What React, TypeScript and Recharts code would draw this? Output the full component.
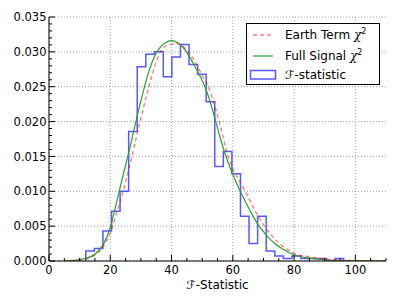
import React from 'react';
import { ComposedChart, Line, XAxis, YAxis, CartesianGrid, Legend } from 'recharts';

// Histogram bin edges (F-statistic) and normalised densities
const binEdges = [12.0, 14.8, 17.6, 20.4, 23.2, 26.0, 28.8, 31.6, 34.4, 37.3, 40.1, 42.9, 45.7, 48.5, 51.3, 54.1, 56.9, 59.7, 62.5, 65.3, 68.1, 70.9, 73.7, 76.5, 79.3, 82.2, 85.0, 87.8, 90.6, 93.4, 96.2];
const histDensity = [0.00143, 0.00179, 0.00429, 0.00714, 0.01000, 0.01857, 0.02785, 0.02964, 0.03000, 0.02642, 0.02928, 0.03106, 0.02820, 0.02678, 0.02285, 0.01357, 0.01570, 0.01250, 0.00643, 0.00250, 0.00643, 0.00143, 0.00071, 0.00036, 0.00071, 0.00036, 0.00036, 0.00036, 0.00000, 0.00036];

// Chi-squared curves
const curveF = [5, 6, 8, 10, 12, 14, 16, 18, 20, 22, 24, 26, 28, 30, 32, 34, 36, 38, 40, 42, 44, 46, 48, 50, 52, 54, 56, 58, 60, 62, 64, 66, 68, 70, 72, 74, 76, 78, 80, 85, 90, 95, 100, 105, 110];
const earthTerm = [0, 0.00001, 0.00004, 0.0001, 0.0003, 0.0006, 0.0012, 0.0023, 0.0040, 0.0068, 0.0097, 0.0131, 0.0168, 0.0205, 0.0240, 0.0272, 0.0297, 0.0308, 0.0311, 0.0312, 0.0307, 0.0297, 0.0283, 0.0266, 0.0250, 0.0224, 0.0192, 0.0157, 0.0132, 0.0116, 0.0100, 0.0083, 0.0066, 0.0052, 0.0040, 0.0030, 0.0022, 0.0016, 0.0011, 0.0006, 0.0003, 0.00012, 0.00005, 0.00002, 0];
const fullSignal = [0, 0.00002, 0.00008, 0.0002, 0.0004, 0.0007, 0.0014, 0.0026, 0.0048, 0.0083, 0.0120, 0.0155, 0.0193, 0.0230, 0.0263, 0.0289, 0.0305, 0.0313, 0.0316, 0.0313, 0.0305, 0.0292, 0.0276, 0.0259, 0.0237, 0.0207, 0.0175, 0.0147, 0.0124, 0.0104, 0.0086, 0.0069, 0.0054, 0.0042, 0.0032, 0.0024, 0.0018, 0.0013, 0.0009, 0.0004, 0.00018, 0.00007, 0.00003, 0.00001, 0];

const seriesNames = ['Earth Term', 'Full Signal', '\u2131-statistic'];

// Axis ticks
const xMajor = [0, 20, 40, 60, 80, 100];
const xTicks = [0, 5, 10, 15, 20, 25, 30, 35, 40, 45, 50, 55, 60, 65, 70, 75, 80, 85, 90, 95, 100, 105, 110];
const yMajor = [0, 0.005, 0.01, 0.015, 0.02, 0.025, 0.03, 0.035];
const yTicks = [0, 0.001, 0.002, 0.003, 0.004, 0.005, 0.006, 0.007, 0.008, 0.009, 0.01, 0.011, 0.012, 0.013, 0.014, 0.015, 0.016, 0.017, 0.018, 0.019, 0.02, 0.021, 0.022, 0.023, 0.024, 0.025, 0.026, 0.027, 0.028, 0.029, 0.03, 0.031, 0.032, 0.033, 0.034, 0.035];

const histData = [
  { f: binEdges[0], v: 0 },
  ...histDensity.map((d, i) => ({ f: binEdges[i], v: d })),
  { f: binEdges[binEdges.length - 1], v: 0 },
];
const earthData = curveF.map((f, i) => ({ f, v: earthTerm[i] }));
const fullData = curveF.map((f, i) => ({ f, v: fullSignal[i] }));

const FONT = 'DejaVu Sans';
const FS = 11.5;
const MAJ = 6;
const MIN = 3;

const isIn = (v: number, arr: number[]) => arr.some((a) => Math.abs(a - v) < 1e-9);

const BottomTick = (p: any) => {
  const { x, y, payload } = p;
  const major = isIn(payload.value, xMajor);
  return (
    <g>
      <line x1={x} x2={x} y1={y} y2={y - (major ? MAJ : MIN)} stroke="#000" strokeWidth={1} />
      {major && (
        <text x={x} y={y + 13} textAnchor="middle" fontSize={FS} fontFamily={FONT} fill="#000">
          {payload.value}
        </text>
      )}
    </g>
  );
};

const TopTick = (p: any) => {
  const { x, y, payload } = p;
  const major = isIn(payload.value, xMajor);
  return <line x1={x} x2={x} y1={y} y2={y + (major ? MAJ : MIN)} stroke="#000" strokeWidth={1} />;
};

const LeftTick = (p: any) => {
  const { x, y, payload } = p;
  const major = isIn(payload.value, yMajor);
  return (
    <g>
      <line x1={x} x2={x + (major ? MAJ : MIN)} y1={y} y2={y} stroke="#000" strokeWidth={1} />
      {major && (
        <text x={x - 2.5} y={y + 4.2} textAnchor="end" fontSize={FS} fontFamily={FONT} fill="#000">
          {payload.value.toFixed(3)}
        </text>
      )}
    </g>
  );
};

const RightTick = (p: any) => {
  const { x, y, payload } = p;
  const major = isIn(payload.value, yMajor);
  return <line x1={x} x2={x - (major ? MAJ : MIN)} y1={y} y2={y} stroke="#000" strokeWidth={1} />;
};

const LFS = 12;

const LegendBox = () => (
  <svg width={134} height={62} style={{ display: 'block' }}>
    <rect x={0.5} y={0.5} width={133} height={61} fill="#fff" stroke="#000" strokeWidth={1} />
    <line x1={7} x2={27} y1={12} y2={12} stroke="#ff0000" strokeOpacity={0.5} strokeWidth={1.3} strokeDasharray="4 3" />
    <text x={39} y={16} fontSize={LFS} fontFamily={FONT} fill="#000">
      {seriesNames[0] + ' '}
      <tspan fontStyle="italic" fontFamily="DejaVu Serif">χ</tspan>
      <tspan dy={-5} fontSize={8}>2</tspan>
    </text>
    <line x1={7} x2={27} y1={33} y2={33} stroke="#2ca02c" strokeWidth={1.2} />
    <text x={39} y={37} fontSize={LFS} fontFamily={FONT} fill="#000">
      {seriesNames[1] + ' '}
      <tspan fontStyle="italic" fontFamily="DejaVu Serif">χ</tspan>
      <tspan dy={-5} fontSize={8}>2</tspan>
    </text>
    <rect x={4.5} y={47.5} width={25} height={8.5} fill="none" stroke="#3030ff" strokeOpacity={0.8} strokeWidth={1.5} />
    <text x={39} y={55.5} fontSize={LFS} fontFamily={FONT} fill="#000">
      {seriesNames[2]}
    </text>
  </svg>
);

export default function App() {
  return (
    <div style={{ position: 'fixed', left: 0, top: 0, width: 399, height: 301, background: '#fff' }}>
      <ComposedChart width={399} height={301} margin={{ top: 17, right: 13, left: 0, bottom: 0 }}>
        <CartesianGrid
          horizontalValues={yMajor}
          verticalValues={xMajor}
          stroke="#8a8a8a"
          strokeWidth={0.8}
          strokeDasharray="1 2"
        />
        <XAxis
          dataKey="f"
          type="number"
          domain={[0, 110]}
          ticks={xTicks}
          interval={0}
          allowDataOverflow
          tickLine={false}
          tickSize={0}
          tickMargin={0}
          height={40}
          axisLine={{ stroke: '#000', strokeWidth: 1 }}
          tick={<BottomTick />}
          label={{ value: '\u2131-Statistic', position: 'insideBottom', offset: 12, fontSize: 12, fontFamily: FONT, fill: '#000' }}
        />
        <XAxis
          xAxisId="top"
          orientation="top"
          dataKey="f"
          type="number"
          domain={[0, 110]}
          ticks={xTicks}
          interval={0}
          allowDataOverflow
          tickLine={false}
          tickSize={0}
          tickMargin={0}
          height={0}
          axisLine={{ stroke: '#000', strokeWidth: 1 }}
          tick={<TopTick />}
        />
        <YAxis
          type="number"
          domain={[0, 0.035]}
          ticks={yTicks}
          interval={0}
          allowDataOverflow
          tickLine={false}
          tickSize={0}
          tickMargin={0}
          width={49}
          axisLine={{ stroke: '#000', strokeWidth: 1 }}
          tick={<LeftTick />}
        />
        <YAxis
          yAxisId="right"
          orientation="right"
          type="number"
          domain={[0, 0.035]}
          ticks={yTicks}
          interval={0}
          allowDataOverflow
          tickLine={false}
          tickSize={0}
          tickMargin={0}
          width={0}
          axisLine={{ stroke: '#000', strokeWidth: 1 }}
          tick={<RightTick />}
        />
        <Line
          data={histData}
          dataKey="v"
          name={seriesNames[2]}
          type="stepAfter"
          stroke="#3030ff"
          strokeOpacity={0.8}
          strokeWidth={1.5}
          dot={false}
          activeDot={false}
          isAnimationActive={false}
        />
        <Line
          data={fullData}
          dataKey="v"
          name={seriesNames[1]}
          type="monotone"
          stroke="#2ca02c"
          strokeWidth={1.2}
          dot={false}
          activeDot={false}
          isAnimationActive={false}
        />
        <Line
          data={earthData}
          dataKey="v"
          name={seriesNames[0]}
          type="monotone"
          stroke="#ff0000"
          strokeOpacity={0.55}
          strokeWidth={1.3}
          strokeDasharray="4 3"
          dot={false}
          activeDot={false}
          isAnimationActive={false}
        />
        <Legend
          layout="horizontal"
          verticalAlign="middle"
          align="center"
          content={() => <LegendBox />}
          wrapperStyle={{ position: 'absolute', left: 246, top: 23, width: 134, height: 62 }}
        />
      </ComposedChart>
    </div>
  );
}
